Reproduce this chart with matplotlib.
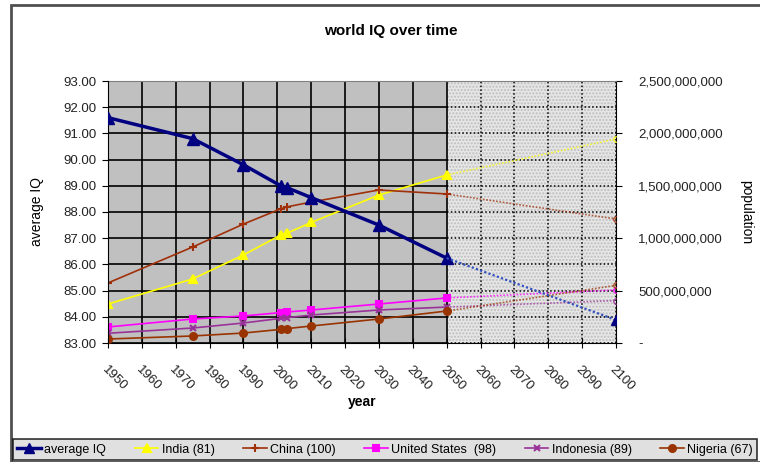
import matplotlib.pyplot as plt
import matplotlib.ticker as mticker
from matplotlib.lines import Line2D
from matplotlib.patches import Rectangle
import numpy as np

plt.rcParams['font.family'] = ['Liberation Sans', 'DejaVu Sans']

# data (population in millions)
years = [1950, 1975, 1990, 2001, 2003, 2010, 2030, 2050, 2100]
avg_iq = [91.60, 90.80, 89.80, 89.00, 88.92, 88.55, 87.50, 86.24, 83.88]
india = [372, 611, 840, 1030, 1050, 1150, 1412, 1603, 1947]
china = [573, 916, 1135, 1280, 1300, 1345, 1460, 1422, 1183]
usa = [153, 229, 258, 290, 296, 315, 372, 430, 506]
indonesia = [93, 143, 191, 235, 242, 267, 315, 343, 405]
nigeria = [38, 67, 95, 130, 138, 162, 229, 305, 550]

year_ticks = list(range(1950, 2101, 10))
iq_ticks = list(range(83, 94))
pop_ticks = [0, 500e6, 1000e6, 1500e6, 2000e6, 2500e6]
proj_start = 2050

countries = [
    ('India (81)', india, '#FFFF00', '^', 6),
    ('China (100)', china, '#A0300A', '+', 6),
    ('United States  (98)', usa, '#FF00FF', 's', 5),
    ('Indonesia (89)', indonesia, '#993399', 'x', 4.5),
    ('Nigeria (67)', nigeria, '#993300', 'o', 5),
]

fig = plt.figure(figsize=(7.6, 4.62), dpi=100)
ax2 = fig.add_axes([108/760, 1 - 343/462, 508/760, 262/462])
ax = ax2.twinx()
ax.yaxis.tick_left()
ax.yaxis.set_label_position('left')
ax2.yaxis.tick_right()
ax2.yaxis.set_label_position('right')
ax.set_zorder(ax2.get_zorder() + 1)
ax.patch.set_visible(False)

# backgrounds: plain grey for data, dotted light grey for projection
ax2.set_facecolor('#C0C0C0')
ax2.axvspan(proj_start, 2100, facecolor='#E6E6E6', hatch='.....',
            edgecolor='#BDBDBD', linewidth=0, zorder=0)

# gridlines: solid before 2050, dotted after
tr = ax2.get_xaxis_transform()
for i in range(len(iq_ticks)):
    f = i / (len(iq_ticks) - 1)
    ax2.plot([1950, proj_start], [f, f], transform=tr, color='black', lw=1.2, zorder=1)
    ax2.plot([proj_start, 2100], [f, f], transform=tr, color='black', lw=1.1,
             ls=(0, (1, 1.5)), zorder=1)
for yr in year_ticks:
    if yr <= proj_start:
        ax2.axvline(yr, color='black', lw=1.2, zorder=1)
    else:
        ax2.axvline(yr, color='black', lw=1.1, ls=(0, (1, 1.5)), zorder=1)

years_a = np.array(years)
obs = years_a <= proj_start
proj = years_a >= proj_start

for name, vals, col, mk, ms in countries:
    v = np.array(vals) * 1e6
    ax2.plot(years_a[obs], v[obs], color=col, lw=1.2, marker=mk, ms=ms,
             mew=1.5, zorder=3)
    ax2.plot(years_a[proj], v[proj], color=col, lw=1.2, ls=(0, (1, 1)),
             alpha=0.75, zorder=3)
    ax2.plot([2100], [v[-1]], color=col, marker='o', ms=4, mfc='none',
             mew=1, alpha=0.8, zorder=3)

iq = np.array(avg_iq)
ax.plot(years_a[obs], iq[obs], color='#000080', lw=2.5, marker='^', ms=8, zorder=4)
ax.plot(years_a[proj], iq[proj], color='#3050C0', lw=1.6, ls=(0, (1, 1)), zorder=4)
ax.plot([2100], [iq[-1]], color='#000080', marker='^', ms=7, zorder=4)

ax2.set_xlim(1950, 2100)
ax.set_ylim(83, 93)
ax2.set_ylim(0, 2.5e9)

ax.set_yticks(iq_ticks)
ax.yaxis.set_major_formatter(mticker.FormatStrFormatter('%.2f'))
ax2.set_yticks(pop_ticks)
ax2.yaxis.set_major_formatter(mticker.FuncFormatter(
    lambda v, p: '-' if v == 0 else '{:,.0f}'.format(v)))
ax2.set_xticks(year_ticks)
ax2.set_xticklabels([str(y) for y in year_ticks], rotation=-45,
                    ha='left', va='top', rotation_mode='anchor')

for a in (ax, ax2):
    for s in a.spines.values():
        s.set_visible(False)
ax.spines['left'].set_visible(True)
ax2.spines['bottom'].set_visible(True)
ax2.spines['right'].set_visible(True)
ax2.spines['top'].set_visible(True)
ax2.spines['top'].set_color('#808080')

ax.tick_params(axis='y', labelsize=9.5, direction='out', length=4, pad=4,
               labelcolor='#222222')
ax2.tick_params(axis='y', labelsize=9.5, direction='out', length=4, pad=12,
                labelcolor='#222222')
ax2.tick_params(axis='x', labelsize=9.5, direction='inout', length=7, pad=11,
                labelcolor='#222222')

ax.set_ylabel('average IQ', fontsize=10, labelpad=14)
ax2.set_ylabel('population', fontsize=10, rotation=-90, labelpad=22)
ax2.set_xlabel('year', fontsize=10, fontweight='bold', labelpad=2)

fig.text(391/760, 1 - 31/462, 'world IQ over time', fontsize=11,
         fontweight='bold', ha='center', va='center')

# chart border
fig.patches.append(Rectangle((11/760, 0), 760/760, 1 - 5/462,
                             transform=fig.transFigure, fill=False,
                             edgecolor='#505050', lw=2))

handles = [Line2D([], [], color='#000080', lw=2.5, marker='^', ms=7)]
labels = ['average IQ']
for name, vals, col, mk, ms in countries:
    handles.append(Line2D([], [], color=col, lw=1.2, marker=mk, ms=ms, mew=1.5))
    labels.append(name)
leg = fig.legend(handles, labels, loc='lower left', ncol=6, mode='expand',
                 bbox_to_anchor=(13/760, 2/462, 744/760, 27/462),
                 fontsize=9, frameon=True, fancybox=False, handlelength=1.9,
                 handletextpad=0.25, columnspacing=0.7, borderpad=0.35,
                 borderaxespad=0)
leg.get_frame().set_facecolor('#D9D9D9')
leg.get_frame().set_edgecolor('black')
leg.get_frame().set_linewidth(1.2)

fig.savefig('out.png', dpi=100)
